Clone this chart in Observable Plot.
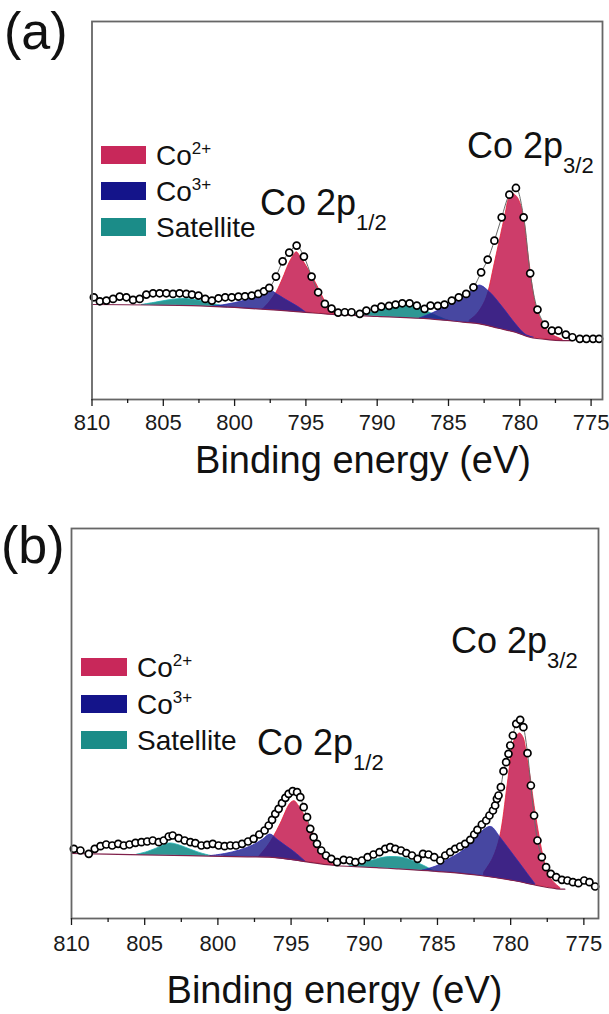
<!DOCTYPE html>
<html><head><meta charset="utf-8">
<script src="https://cdn.jsdelivr.net/npm/d3@7"></script>
<script src="https://cdn.jsdelivr.net/npm/@observablehq/plot@0.6"></script>
<style>
html,body{margin:0;padding:0;background:#fff;}
#chart{position:relative;width:609px;height:1014px;overflow:hidden;}
#chart svg{position:absolute;left:0;}
</style></head><body><div id="chart"></div>
<script>
// ---------- tick values and texts ----------
const ticksMajor = [810, 805, 800, 795, 790, 785, 780, 775];
const ticksMinor = [807.5, 802.5, 797.5, 792.5, 787.5, 782.5, 777.5];
const legendNames = ["Co", "Co", "Satellite"];
const legendSup = ["2+", "3+", ""];
const peakName = "Co 2p";
const peakSubs = ["1/2", "3/2"];
const axisTitle = "Binding energy (eV)";
const panelTags = ["(a)", "(b)"];

// ---------- panel (a): measured spectrum ----------
const energyA = [809.87, 809.45, 808.99, 808.52, 808.06, 807.59, 807.12, 806.66, 806.19, 805.72, 805.26, 804.79, 804.32, 803.86, 803.39, 802.99, 802.53, 802.06, 801.59, 801.13, 800.66, 800.20, 799.73, 799.27, 798.80, 798.34, 797.94, 797.57, 797.10, 796.63, 796.17, 795.65, 795.14, 794.60, 794.14, 793.67, 793.20, 792.74, 792.27, 791.80, 791.22, 790.76, 790.17, 789.71, 789.17, 788.71, 788.24, 787.73, 787.22, 786.68, 786.26, 785.75, 785.28, 784.77, 784.28, 783.76, 783.25, 782.71, 782.25, 781.78, 781.27, 780.73, 780.27, 779.73, 779.27, 778.76, 778.24, 777.75, 777.29, 776.77, 776.31, 775.79, 775.33, 774.86, 774.44];
const intensityA = [169.3, 165.3, 166, 167.7, 170, 169.3, 166.7, 167.7, 172, 173.3, 173.3, 173.3, 172.7, 173.3, 172.7, 172, 171, 167.7, 166, 168.3, 169.3, 169.3, 170, 170.3, 171, 172.7, 175.3, 178.7, 190, 205.3, 214, 221, 210, 190, 174.3, 162.7, 158, 154, 154.3, 154.3, 152.7, 156, 157.7, 160, 160.7, 162, 163.3, 163.3, 161, 157.7, 161, 160.7, 162, 166, 169.3, 172.7, 179.3, 194.3, 207, 226, 249.3, 272, 278.7, 249.3, 193.3, 157, 142, 136, 136, 132, 129.3, 127.7, 127.7, 127.7, 127.7];
const bgA_E = [810, 806, 803, 800, 797.3, 795, 793.5, 790, 786.3, 784, 782.8, 781.5, 780.3, 779.3, 777.9, 777, 776.3];
const bgA_I = [162.1, 161.6, 161, 159.1, 156.7, 154.2, 152.5, 150.2, 147.7, 144.5, 142.7, 138.3, 134.3, 129.3, 126.7, 126, 126];
// fitted components (a)
const sat1A_E = [806.5, 805.5, 804.5, 803.7, 803.0, 802.2, 801.3, 800.5];
const sat1A_top = [161.6, 164, 166.5, 167.7, 167, 165, 162, 159.2];
const sat1A_bot = [161.6, 161.4, 161.3, 161.1, 161, 160.5, 159.8, 159.2];
const co3A1_E = [801.5, 800.5, 799.5, 798.5, 797.8, 797.4, 797.0, 796.5, 796.0, 795.5, 795.0];
const co3A1_top = [159.9, 162, 165, 169.5, 173, 175.3, 172, 167.7, 163.5, 159.3, 154.2];
const co3A1_bot = [159.9, 159.2, 158.4, 157.6, 157.1, 156.8, 156.4, 155.8, 155.3, 154.7, 154.2];
const co2A1_E = [798.0, 797.5, 797.05, 796.6, 796.2, 795.9, 795.65, 795.3, 794.9, 794.5, 794.1, 793.8, 793.3, 792.8];
const co2A1_top = [157.2, 165, 174.3, 188, 202, 210, 214.3, 208, 199, 189, 178, 169.3, 156, 152];
const co2A1_bot = [157.2, 156.9, 156.4, 155.9, 155.5, 155.1, 154.9, 154.5, 154.0, 153.6, 153.2, 152.8, 152.4, 152.0];
const sat2A_E = [791.5, 790.5, 789.5, 788.7, 788.0, 787.2, 786.5, 785.8, 785.0];
const sat2A_top = [151.2, 153.5, 157, 160, 161, 159, 155, 150.5, 145.8];
const sat2A_bot = [151.2, 150.5, 149.8, 149.3, 148.8, 148.3, 147.8, 147.0, 145.8];
const co3A2_E = [787.0, 786.1, 785.2, 784.0, 783.3, 782.8, 782.1, 781.2, 780.3, 779.6, 779.0];
const co3A2_top = [148.2, 153.3, 159.3, 169.3, 176.7, 181, 174.3, 159.3, 142.7, 132, 128.7];
const co3A2_bot = [148.2, 147.4, 146.1, 144.4, 143.4, 142.7, 140.3, 137.3, 134.3, 130.8, 128.7];
const co2A2_E = [783.5, 783.0, 782.5, 782.2, 781.8, 781.4, 781.0, 780.75, 780.5, 780.2, 779.92, 779.7, 779.46, 779.22, 778.99, 778.76, 778.4, 777.94, 777.5, 777.0];
const co2A2_top = [146, 152, 163, 174.3, 200, 226, 252, 268, 272.7, 270, 262, 248, 220, 193, 170, 156, 144, 134, 130, 127];
const co2A2_bot = [143.8, 143.0, 141.7, 140.7, 139.4, 138.0, 136.7, 135.8, 135.0, 133.8, 132.4, 131.3, 130.1, 129.2, 128.8, 128.3, 127.6, 126.8, 126.4, 126];

// ---------- panel (b): measured spectrum ----------
const energyB = [809.84, 809.39, 808.82, 808.41, 808.02, 807.63, 807.22, 806.81, 806.43, 806.04, 805.63, 805.22, 804.83, 804.45, 804.04, 803.70, 803.36, 803.09, 802.68, 802.27, 801.88, 801.54, 801.13, 800.74, 800.35, 799.95, 799.54, 799.15, 798.76, 798.35, 797.94, 797.56, 797.17, 796.81, 796.53, 796.30, 796.08, 795.85, 795.62, 795.39, 795.17, 794.89, 794.59, 794.37, 794.14, 793.91, 793.69, 793.46, 793.23, 792.94, 792.61, 792.25, 791.86, 791.41, 791.00, 790.61, 790.16, 789.77, 789.37, 788.96, 788.57, 788.23, 787.88, 787.49, 787.13, 786.74, 786.36, 785.99, 785.61, 785.22, 784.81, 784.47, 784.13, 783.79, 783.45, 783.11, 782.76, 782.49, 782.27, 781.97, 781.67, 781.45, 781.21, 781.06, 780.94, 780.83, 780.67, 780.49, 780.31, 780.15, 780.03, 779.85, 779.62, 779.35, 779.13, 778.85, 778.62, 778.40, 778.17, 777.87, 777.58, 777.26, 776.89, 776.50, 776.12, 775.75, 775.37, 774.98, 774.62, 774.23];
const intensityB = [69.7, 68, 64.7, 69.7, 72.3, 74, 73, 74.7, 73, 74, 75.7, 76.3, 77, 78, 76.3, 78, 82, 83, 80.3, 78, 76.3, 75.3, 73, 73.7, 74.7, 73, 72.3, 73, 73, 74.7, 77, 79.7, 84, 88, 93, 98.7, 104.7, 109.7, 115.3, 120.7, 124.7, 127.3, 126.3, 121.3, 111.3, 101.3, 89.7, 81.3, 74.7, 68, 63, 59.7, 56.3, 58.7, 58, 56.3, 58, 61.3, 64, 66.3, 69.7, 71.3, 69.7, 68, 65.3, 63, 59.7, 64.7, 64, 61.3, 58, 63, 66.3, 69.7, 72, 74.7, 78.7, 84, 88.7, 94, 98, 103, 108, 113, 119.7, 123, 131.3, 147.3, 156.3, 164.7, 173, 183, 194.7, 198.7, 191.3, 165.3, 133, 103, 78, 61.3, 51.3, 44.7, 41.3, 38.7, 38, 36.3, 35.3, 38, 36.3, 32];
const bgB_E = [810, 806, 802, 798, 796.5, 795, 793.8, 792, 789, 787.77, 784.35, 782.08, 779.81, 778.21, 776.85, 776.3];
const bgB_I = [65, 63.9, 62.8, 61.7, 61.3, 59.2, 56.3, 53, 50.7, 49.7, 46.3, 43, 38, 33, 29.7, 29.3];
// fitted components (b)
const sat1B_E = [805.5, 804.8, 804.0, 803.3, 802.6, 801.8, 801.0, 800.4];
const sat1B_top = [63.8, 66.5, 71, 75, 73, 68.5, 64.5, 62.4];
const sat1B_bot = [63.8, 63.6, 63.4, 63.2, 63.0, 62.8, 62.5, 62.4];
const co3B1_E = [800.5, 799.5, 798.5, 797.6, 796.9, 796.42, 795.9, 795.3, 794.7, 794.0];
const co3B1_top = [62.4, 64.5, 68, 73, 79, 84, 78.4, 72, 65.6, 56.7];
const co3B1_bot = [62.4, 62.1, 61.8, 61.6, 61.4, 61.2, 60.2, 59.1, 58.0, 56.7];
const co2B1_E = [797.2, 796.6, 796.19, 795.7, 795.05, 794.76, 794.45, 794.14, 793.75, 793.34, 792.95, 792.66, 792.3, 792.0];
const co2B1_top = [61.5, 72, 81.3, 95, 114.7, 117.3, 112, 104.7, 93, 81.3, 69, 61.3, 56, 53];
const co2B1_bot = [61.5, 61.3, 60.7, 59.8, 58.6, 58.1, 57.5, 56.9, 56.2, 55.5, 54.7, 54.2, 53.6, 53.0];
const sat2B_E = [791.0, 790.2, 789.4, 788.6, 788.0, 787.3, 786.6, 785.9, 785.2];
const sat2B_top = [52.2, 54.5, 58, 61, 61.5, 60.5, 57, 52.5, 47.1];
const sat2B_bot = [52.2, 51.6, 51.0, 50.3, 49.9, 49.2, 48.5, 47.8, 47.1];
const co3B2_E = [786.0, 785.0, 784.35, 783.2, 782.3, 781.62, 781.28, 780.72, 780.03, 779.35, 778.67, 778.33];
const co3B2_top = [47.9, 52.5, 58, 68, 81.3, 90.5, 91.3, 81.3, 68, 54.7, 41.3, 34.7];
const co3B2_bot = [47.9, 46.9, 46.3, 44.6, 43.3, 42.0, 41.2, 40.0, 38.5, 36.6, 34.4, 33.4];
const co2B2_E = [781.8, 781.2, 780.72, 780.2, 779.81, 779.55, 779.35, 779.1, 778.89, 778.6, 778.44, 778.1, 777.76, 777.5, 777.3, 776.9, 776.6];
const co2B2_top = [46, 60, 81.3, 134, 174.7, 183, 185, 180, 163, 138, 120, 88, 62, 48, 41, 34, 30.5];
const co2B2_bot = [42.4, 41.1, 40.0, 38.9, 38.0, 37.2, 36.6, 35.8, 35.1, 34.2, 33.7, 32.7, 31.9, 31.2, 30.8, 29.8, 29.5];

// ---------- styles ----------
const FONT = '"Liberation Sans", Arial, Helvetica, sans-serif';
const STY = {
  co2: {fill: "#C8285A", op: 0.9, line: "#E8203A"},
  co3: {fill: "#1E1E8C", op: 0.82, line: "#2A2AB0"},
  sat: {fill: "#178C88", op: 0.9, line: "#22B4B4"}
};
const SWATCH = ["#C8285A", "#14148A", "#1B8C88"];

const zip = (E, I) => E.map((e, i) => ({e, v: I[i]}));
const band = (E, top, bot) => E.map((e, i) => ({e, lo: bot[i], hi: top[i]}));

function build(cfg) {
  const area = (E, top, bot, s) => Plot.areaY(band(E, top, bot), {
    x: "e", y1: "lo", y2: "hi", fill: s.fill, fillOpacity: s.op,
    stroke: s.line, strokeWidth: 0.9, strokeOpacity: 0.9, curve: "catmull-rom"
  });
  const pts = zip(cfg.E, cfg.I);
  return Plot.plot({
    width: 609, height: cfg.height,
    marginLeft: cfg.ml, marginRight: cfg.mr, marginTop: cfg.mt, marginBottom: cfg.mb,
    x: {domain: cfg.xDomain},
    y: {domain: cfg.yDomain, axis: null},
    style: {fontFamily: FONT, fontSize: "22px", color: "#1a1a1a", background: "transparent", overflow: "visible"},
    marks: [
      ...cfg.sat.map(c => area(...c, STY.sat)),
      ...cfg.co2.map(c => area(...c, STY.co2)),
      ...cfg.co3.map(c => area(...c, STY.co3)),
      Plot.line(zip(cfg.bgE, cfg.bgI), {x: "e", y: "v", stroke: "#80204a", strokeWidth: 1.2, curve: "catmull-rom"}),
      Plot.line(pts, {x: "e", y: "v", stroke: "#6a6a6a", strokeWidth: 1, curve: "catmull-rom"}),
      Plot.dot(pts, {x: "e", y: "v", r: 3.5, fill: "white", stroke: "#000", strokeWidth: 1.7}),
      Plot.frame({stroke: "#666", strokeWidth: 1.8}),
      Plot.axisX({ticks: ticksMajor, tickSize: 7, tickPadding: cfg.pad, tickFormat: d => String(d), label: null, fontSize: 22, strokeWidth: 1.3}),
      Plot.axisX({ticks: ticksMinor, tickSize: 4, tickFormat: () => "", label: null, strokeWidth: 1.3})
    ]
  });
}

function deco(svg, d) {
  const g = d3.select(svg).append("g")
    .attr("font-family", FONT).attr("fill", "#111").attr("text-anchor", "start");
  g.append("text").attr("x", d.tag[0]).attr("y", d.tag[1]).attr("font-size", 52).text(d.tagText);
  legendNames.forEach((name, i) => {
    g.append("rect").attr("x", d.legX).attr("y", d.legY[i]).attr("width", d.legW).attr("height", 18).attr("fill", SWATCH[i]);
    const t = g.append("text").attr("x", d.legTX).attr("y", d.legY[i] + 19).attr("font-size", 28);
    t.append("tspan").text(name);
    if (legendSup[i]) t.append("tspan").attr("dy", -11).attr("font-size", 17).text(legendSup[i]);
  });
  d.peaks.forEach((p, i) => {
    const t = g.append("text").attr("x", p[0]).attr("y", p[1]).attr("font-size", 36);
    t.append("tspan").text(peakName);
    t.append("tspan").attr("dy", 15).attr("font-size", 22).text(peakSubs[i]);
  });
  g.append("text").attr("x", d.title[0]).attr("y", d.title[1]).attr("text-anchor", "middle").attr("font-size", 38).text(axisTitle);
}

const root = document.getElementById("chart");

const svgA = build({
  height: 490, ml: 91.5, mr: 7, mt: 21, mb: 91, pad: 8,
  xDomain: [810, 774.2], yDomain: [67, 445.3],
  E: energyA, I: intensityA, bgE: bgA_E, bgI: bgA_I,
  sat: [[sat1A_E, sat1A_top, sat1A_bot], [sat2A_E, sat2A_top, sat2A_bot]],
  co2: [[co2A1_E, co2A1_top, co2A1_bot], [co2A2_E, co2A2_top, co2A2_bot]],
  co3: [[co3A1_E, co3A1_top, co3A1_bot], [co3A2_E, co3A2_top, co3A2_bot]]
});
svgA.style.top = "0px";
root.appendChild(svgA);
deco(svgA, {tag: [4, 49], tagText: panelTags[0], legX: 101, legW: 45, legY: [146, 182, 218], legTX: 156,
  peaks: [[260, 215], [467, 158]], title: [363, 473]});

const svgB = build({
  height: 524, ml: 71, mr: 11, mt: 38, mb: 96, pad: 10,
  xDomain: [810, 774], yDomain: [0, 390],
  E: energyB, I: intensityB, bgE: bgB_E, bgI: bgB_I,
  sat: [[sat1B_E, sat1B_top, sat1B_bot], [sat2B_E, sat2B_top, sat2B_bot]],
  co2: [[co2B1_E, co2B1_top, co2B1_bot], [co2B2_E, co2B2_top, co2B2_bot]],
  co3: [[co3B1_E, co3B1_top, co3B1_bot], [co3B2_E, co3B2_top, co3B2_bot]]
});
svgB.style.top = "490px";
root.appendChild(svgB);
deco(svgB, {tag: [1, 73], tagText: panelTags[1], legX: 81, legW: 46, legY: [168, 205, 241], legTX: 137,
  peaks: [[257, 265], [451, 163]], title: [334.5, 513]});
</script></body></html>
